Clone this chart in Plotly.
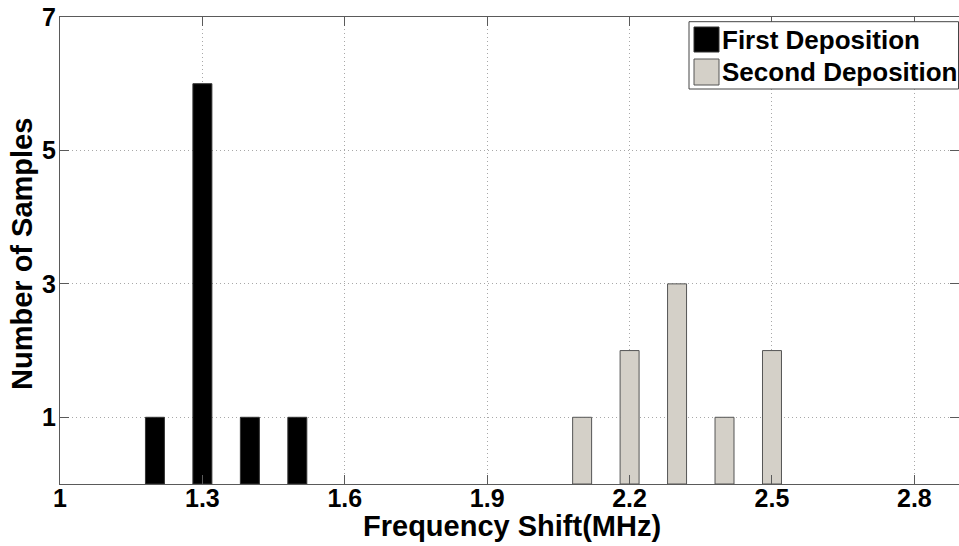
import plotly.graph_objects as go

# Data
first_x = [1.2, 1.3, 1.4, 1.5]
first_counts = [1, 6, 1, 1]
second_x = [2.1, 2.2, 2.3, 2.4, 2.5]
second_counts = [1, 2, 3, 1, 2]
x_ticks = [1, 1.3, 1.6, 1.9, 2.2, 2.5, 2.8]
x_ticklabels = ["1", "1.3", "1.6", "1.9", "2.2", "2.5", "2.8"]
y_ticks = [1, 3, 5, 7]
series_names = ["First Deposition", "Second Deposition"]
x_title = "Frequency Shift(MHz)"
y_title = "Number of Samples"

FONT = "Liberation Sans, Arial, sans-serif"
BLACK = "#000000"
GRAYFILL = "#d4d0c8"
AXIS = "#5a5a5a"

fig = go.Figure()
fig.add_trace(go.Bar(x=first_x, y=first_counts, width=0.04, name=series_names[0],
                     marker=dict(color=BLACK, line=dict(color="#333333", width=1)),
                     showlegend=False))
fig.add_trace(go.Bar(x=second_x, y=second_counts, width=0.04, name=series_names[1],
                     marker=dict(color=GRAYFILL, line=dict(color="#555555", width=1)),
                     showlegend=False))

axis_common = dict(
    showline=True, linecolor=AXIS, linewidth=1, mirror="ticks",
    ticks="inside", ticklen=9, tickcolor=AXIS, tickwidth=1,
    showgrid=True, gridcolor="#a8a8a8", griddash="1px,3px", gridwidth=1,
    zeroline=False, automargin=False,
    tickfont=dict(family=FONT, size=25, color="black", weight="bold"),
)

fig.update_xaxes(range=[1, 2.894], tickvals=x_ticks, ticktext=x_ticklabels,
                 ticklabelstandoff=-8, **axis_common)
fig.update_yaxes(range=[0, 7], tickvals=y_ticks, ticklabelstandoff=-2, **axis_common)

# Pixel -> paper helpers
W, H, L, B, T = 899, 467, 60, 62, 17
def px(xp):
    return (xp - L) / W
def py(yp):
    return (546 - B - yp) / H

shapes = [
    dict(type="rect", xref="paper", yref="paper", x0=px(689), x1=px(958.5), y0=py(89), y1=py(21.7),
         line=dict(color="#444444", width=1), fillcolor="white", layer="above"),
    dict(type="rect", xref="paper", yref="paper", x0=px(694), x1=px(719), y0=py(52), y1=py(27),
         line=dict(color="#333333", width=1), fillcolor=BLACK, layer="above"),
    dict(type="rect", xref="paper", yref="paper", x0=px(694), x1=px(719), y0=py(85), y1=py(59),
         line=dict(color="#555555", width=1), fillcolor=GRAYFILL, layer="above"),
]
title_font = dict(family=FONT, size=29, color="black", weight="bold")
legend_font = dict(family=FONT, size=26, color="black", weight="bold")
annotations = [
    dict(xref="paper", yref="paper", x=px(720), y=py(40), text=series_names[0], showarrow=False,
         xanchor="left", yanchor="middle", font=legend_font),
    dict(xref="paper", yref="paper", x=px(720), y=py(72), text=series_names[1], showarrow=False,
         xanchor="left", yanchor="middle", font=legend_font),
    dict(xref="paper", yref="paper", x=px(512), y=py(525.5), text=x_title, showarrow=False,
         xanchor="center", yanchor="middle", font=title_font),
    dict(xref="paper", yref="paper", x=px(22), y=py(254), text=y_title, showarrow=False,
         textangle=-90, xanchor="center", yanchor="middle", font=title_font),
]

fig.update_layout(
    width=959, height=546,
    margin=dict(l=L, r=0, t=T, b=B, autoexpand=False),
    paper_bgcolor="white", plot_bgcolor="white",
    shapes=shapes, annotations=annotations,
    bargap=0,
)

fig.write_html(
    "out.html",
    config={"displayModeBar": False, "staticPlot": True},
    post_script="document.body.style.margin='0';document.body.style.padding='0';"
                "document.body.style.overflow='hidden';",
)
